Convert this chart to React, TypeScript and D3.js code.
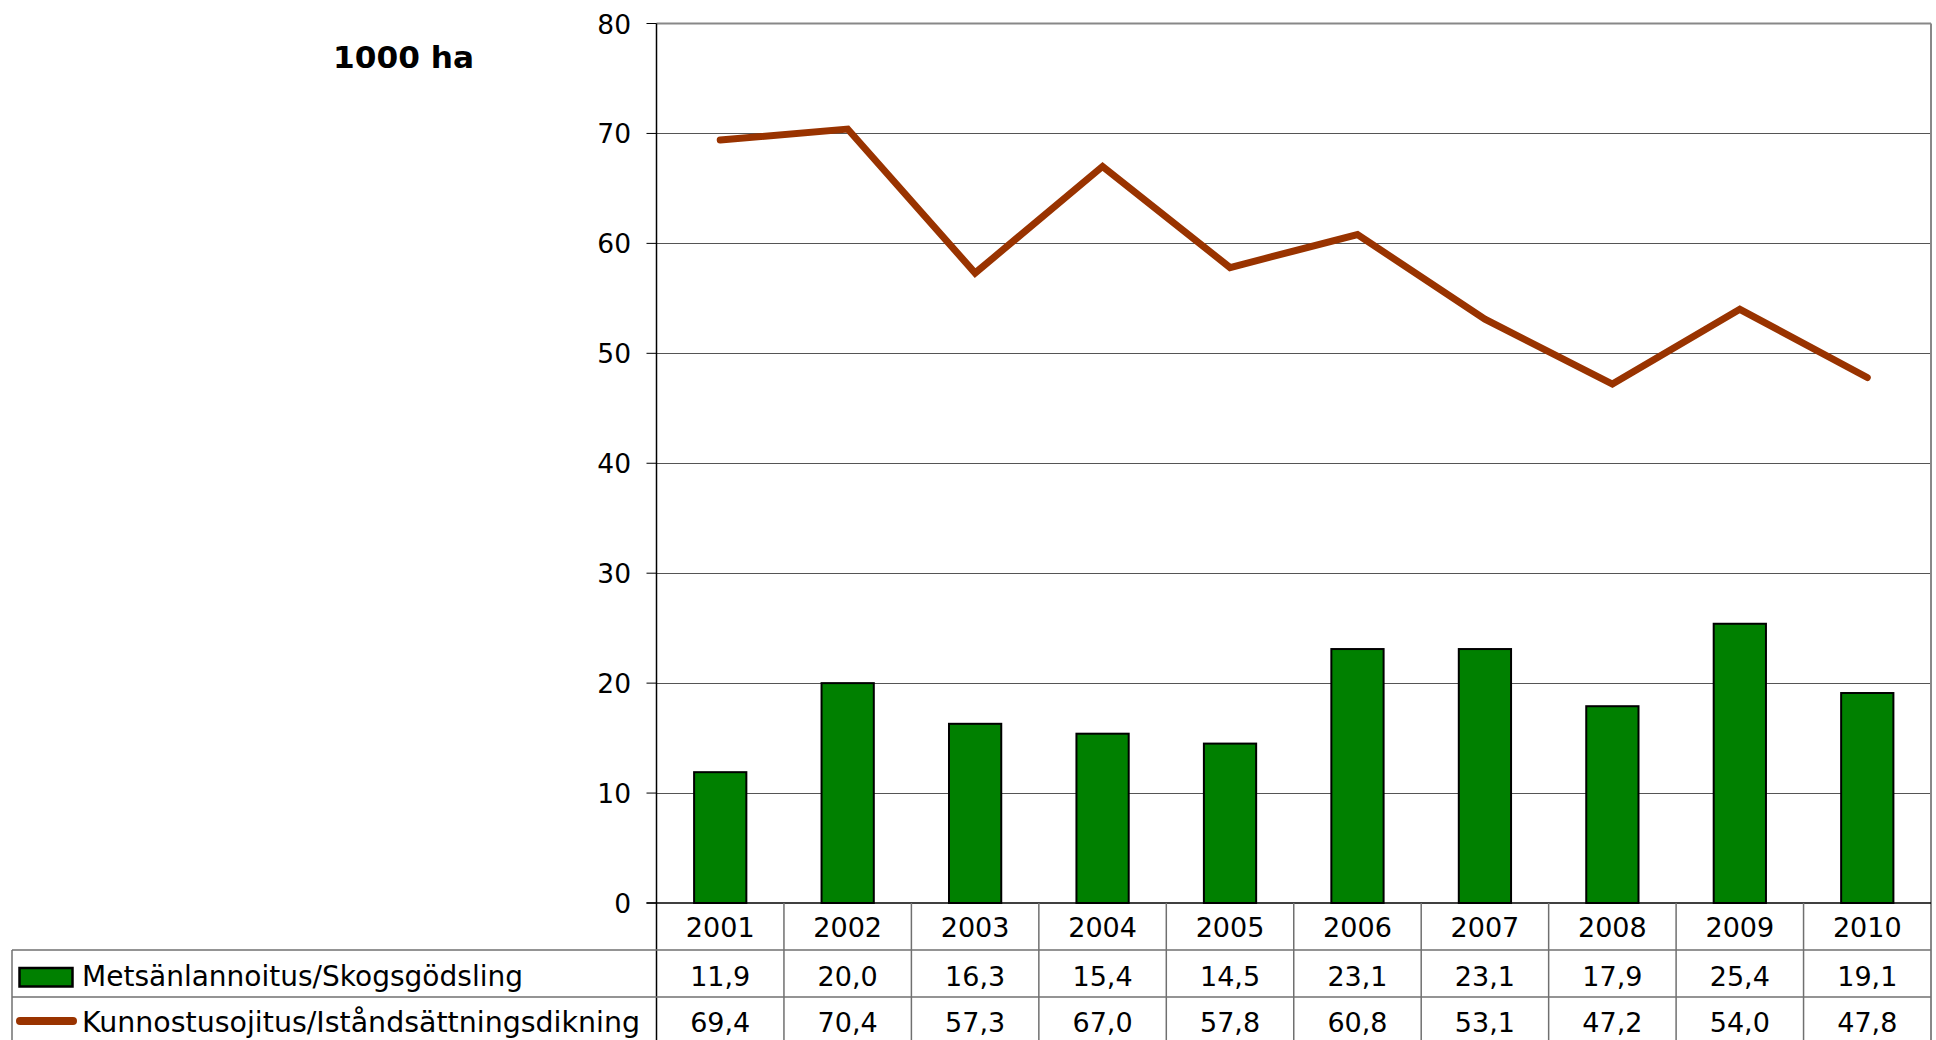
import React from 'react';
import * as d3 from 'd3';

// values
const years = ['2001', '2002', '2003', '2004', '2005', '2006', '2007', '2008', '2009', '2010'];
const fertilization = [11.9, 20.0, 16.3, 15.4, 14.5, 23.1, 23.1, 17.9, 25.4, 19.1];
const ditching = [69.4, 70.4, 57.3, 67.0, 57.8, 60.8, 53.1, 47.2, 54.0, 47.8];
const seriesNames = ['Metsänlannoitus/Skogsgödsling', 'Kunnostusojitus/Iståndsättningsdikning'];
const yTicks = [0, 10, 20, 30, 40, 50, 60, 70, 80];

const W = 1936;
const H = 1040;
const plot = { left: 656.5, right: 1931, top: 23.5, bottom: 903 };
const tableLeft = 12;
const rowH = 47;
const font = "'DejaVu Sans', Verdana, sans-serif";
const barColor = '#008000';
const lineColor = '#993300';
const gridColor = '#555';
const tableColor = '#707070';

const fmt = (v: number) => v.toFixed(1).replace('.', ',');

export default function App() {
  const x = d3.scaleBand<string>()
    .domain(years)
    .range([plot.left, plot.right])
    .paddingInner(0)
    .paddingOuter(0);

  const y = d3.scaleLinear()
    .domain([0, 80])
    .range([plot.bottom, plot.top]);

  const barW = x.bandwidth() * 0.41;
  const cx = (d: string) => (x(d) as number) + x.bandwidth() / 2;

  const line = d3.line<number>()
    .x((d, i) => cx(years[i]))
    .y(d => y(d));

  const row1 = plot.bottom + rowH;
  const row2 = row1 + rowH;

  return (
    <div style={{ position: 'absolute', left: 0, top: 0 }}>
      <svg width={W} height={H} style={{ display: 'block', background: '#fff' }}>
        <text x={333} y={68} fontFamily={font} fontWeight="bold" fontSize={30}
              textLength={141} lengthAdjust="spacingAndGlyphs">
          1000 ha
        </text>

        {/* grid lines */}
        {yTicks.filter(t => t > 0 && t < 80).map(t => (
          <line key={t} x1={plot.left} x2={plot.right} y1={Math.round(y(t)) + 0.5} y2={Math.round(y(t)) + 0.5}
                stroke={gridColor} strokeWidth={1} />
        ))}
        <line x1={plot.left} x2={plot.right} y1={plot.top} y2={plot.top} stroke="#888" strokeWidth={2} />
        <line x1={plot.right} x2={plot.right} y1={plot.top} y2={H} stroke="#888" strokeWidth={2} />

        {/* bars */}
        {fertilization.map((v, i) => (
          <rect key={years[i]} x={cx(years[i]) - barW / 2} y={y(v)} width={barW} height={plot.bottom - y(v)}
                fill={barColor} stroke="#000" strokeWidth={2} />
        ))}

        {/* y axis */}
        <line x1={plot.left} x2={plot.left} y1={plot.top} y2={H} stroke="#000" strokeWidth={1.5} />
        {yTicks.map(t => (
          <g key={t}>
            <line x1={plot.left - 10} x2={plot.left} y1={y(t)} y2={y(t)} stroke="#000" strokeWidth={1} />
            <text x={631} y={y(t) + 10} textAnchor="end" fontFamily={font} fontSize={26.5}>{t}</text>
          </g>
        ))}
        <line x1={plot.left - 10} x2={plot.right} y1={plot.bottom} y2={plot.bottom} stroke="#000" strokeWidth={1.5} />

        {/* line series */}
        <path d={line(ditching) || ''} fill="none" stroke={lineColor} strokeWidth={7}
              strokeLinejoin="miter" strokeLinecap="round" />

        {/* data table */}
        <line x1={tableLeft} x2={plot.right} y1={row1} y2={row1} stroke={tableColor} strokeWidth={1.5} />
        <line x1={tableLeft} x2={plot.right} y1={row2} y2={row2} stroke={tableColor} strokeWidth={1.5} />
        <line x1={tableLeft} x2={tableLeft} y1={row1} y2={H} stroke={tableColor} strokeWidth={1.5} />
        {years.slice(1).map(d => (
          <line key={d} x1={x(d)} x2={x(d)} y1={plot.bottom} y2={H} stroke={tableColor} strokeWidth={1.5} />
        ))}
        {years.map((d, i) => (
          <g key={d} fontFamily={font} fontSize={27} textAnchor="middle">
            <text x={cx(d)} y={plot.bottom + 34}>{d}</text>
            <text x={cx(d)} y={row1 + 36}>{fmt(fertilization[i])}</text>
            <text x={cx(d)} y={row2 + 35}>{fmt(ditching[i])}</text>
          </g>
        ))}

        {/* legend keys */}
        <rect x={19.5} y={968} width={53} height={18.5} fill={barColor} stroke="#000" strokeWidth={2.5} />
        <line x1={20} x2={73} y1={1021} y2={1021} stroke={lineColor} strokeWidth={8} strokeLinecap="round" />
        <text x={82} y={row1 + 36} fontFamily={font} fontSize={27.5}
              textLength={441} lengthAdjust="spacingAndGlyphs">{seriesNames[0]}</text>
        <text x={82} y={row2 + 35} fontFamily={font} fontSize={27.5}
              textLength={558} lengthAdjust="spacingAndGlyphs">{seriesNames[1]}</text>
      </svg>
    </div>
  );
}
